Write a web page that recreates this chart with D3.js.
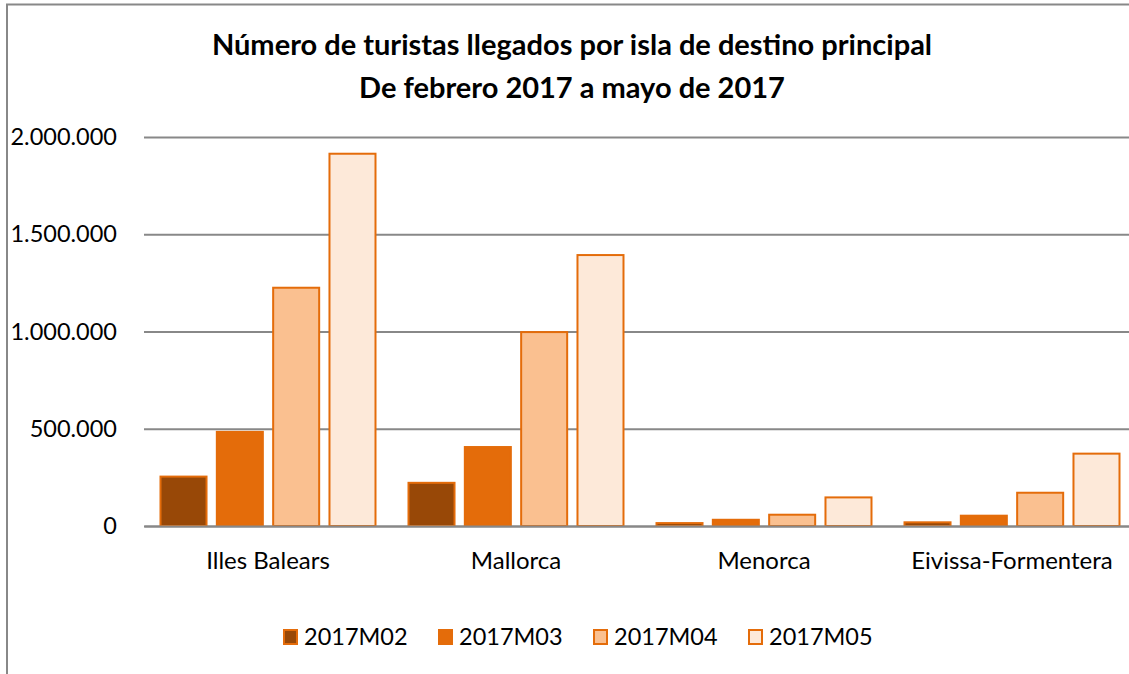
<!DOCTYPE html>
<html>
<head>
<meta charset="utf-8">
<script src="https://cdn.jsdelivr.net/npm/d3@7"></script>
<style>
  html, body { margin: 0; background: #fff; overflow: hidden; }
  svg { display: block; }
  text { font-family: Lato, "Open Sans", sans-serif; fill: #000; }
</style>
</head>
<body>
<div id="chart"></div>
<script>
// data
var categories = ["Illes Balears", "Mallorca", "Menorca", "Eivissa-Formentera"];
var seriesNames = ["2017M02", "2017M03", "2017M04", "2017M05"];
var m02 = [254000, 222000, 15000, 19000];
var m03 = [484000, 406000, 32000, 53000];
var m04 = [1225000, 997000, 58000, 171000];
var m05 = [1914000, 1393000, 147000, 372000];
var yTicks = [0, 500000, 1000000, 1500000, 2000000];
var titleLines = ["Número de turistas llegados por isla de destino principal",
                  "De febrero 2017 a mayo de 2017"];

var seriesValues = [m02, m03, m04, m05];
var fills = ["#984807", "#E46C0A", "#FAC090", "#FDE9D9"];
var edge = "#E46C0A";

var W = 1129, H = 674,
    plot = {left: 144, right: 1136, top: 137, bottom: 526},
    chartBox = {x: 7, y: 4.5, w: 1130};

var rows = [];
categories.forEach(function (c, i) {
  seriesNames.forEach(function (s, j) {
    rows.push({cat: c, series: s, idx: j, value: seriesValues[j][i]});
  });
});

var svg = d3.select("#chart").append("svg")
    .attr("width", W)
    .attr("height", H);

// chart area border, it runs past the right and bottom edge in the picture
svg.append("rect")
    .attr("x", chartBox.x)
    .attr("y", chartBox.y)
    .attr("width", chartBox.w + 20)
    .attr("height", 700)
    .attr("fill", "#fff")
    .attr("stroke", "#888")
    .attr("stroke-width", 2);

var x0 = d3.scaleBand()
    .domain(categories)
    .range([plot.left, plot.right])
    .padding(0);

var x1 = d3.scaleBand()
    .domain(seriesNames)
    .range([0, x0.bandwidth()])
    .paddingInner(0.183)
    .paddingOuter(0.293);

var y = d3.scaleLinear()
    .domain([0, 2000000])
    .range([plot.bottom, plot.top]);

var es = d3.formatLocale({decimal: ",", thousands: ".", grouping: [3], currency: ["", " €"]});
var fmt = es.format(",");

// grid + y labels
var yAxis = svg.append("g")
    .attr("class", "y axis")
    .attr("transform", "translate(" + plot.left + ",0)")
    .call(d3.axisLeft(y).tickValues(yTicks).tickFormat(fmt)
      .tickSize(-(plot.right - plot.left)).tickPadding(27));
yAxis.select(".domain").remove();
yAxis.selectAll(".tick line").attr("stroke", "#888").attr("stroke-width", 2);
yAxis.selectAll(".tick text")
    .style("font-size", "23.5px")
    .style("font-family", "Lato, sans-serif")
    .attr("fill", "#000");

// bars
svg.selectAll("rect.bar")
  .data(rows)
  .enter()
    .append("rect")
    .attr("class", "bar")
    .attr("x", function (d) { return x0(d.cat) + x1(d.series); })
    .attr("y", function (d) { return y(d.value); })
    .attr("width", x1.bandwidth())
    .attr("height", function (d) { return y(0) - y(d.value); })
    .attr("fill", function (d) { return fills[d.idx]; })
    .attr("stroke", edge)
    .attr("stroke-width", 2);

// category axis
var xAxis = svg.append("g")
    .attr("class", "x axis")
    .attr("transform", "translate(0," + plot.bottom + ")")
    .call(d3.axisBottom(x0).tickSize(0).tickPadding(26));
xAxis.select(".domain").attr("stroke", "#888").attr("stroke-width", 2);
xAxis.selectAll(".tick text")
    .style("font-size", "24px")
    .style("font-family", "Lato, sans-serif")
    .attr("fill", "#000");

// title
svg.selectAll("text.title")
  .data(titleLines)
  .enter().append("text")
    .attr("class", "title")
    .attr("x", chartBox.x + chartBox.w / 2)
    .attr("y", function (d, i) { return 55 + i * 43; })
    .attr("text-anchor", "middle")
    .style("font-size", "29px")
    .style("font-weight", "bold")
    .text(function (d) { return d; });

// legend
var legend = svg.selectAll("g.legend")
  .data(seriesNames)
  .enter().append("g")
    .attr("class", "legend")
    .attr("transform", function (d, i) { return "translate(" + (283 + i * 155) + ",630)"; });

legend.append("rect")
    .attr("x", 1)
    .attr("y", 0)
    .attr("width", 13)
    .attr("height", 14)
    .attr("fill", function (d, i) { return fills[i]; })
    .attr("stroke", edge)
    .attr("stroke-width", 2);

legend.append("text")
    .attr("x", 21)
    .attr("y", 15)
    .style("font-size", "23.5px")
    .text(function (d) { return d; });
</script>
</body>
</html>
